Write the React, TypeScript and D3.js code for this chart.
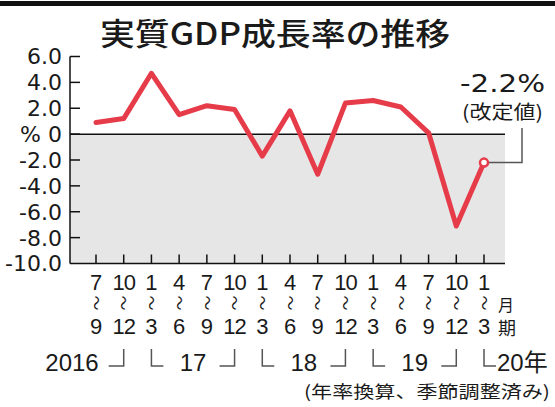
import React, { useEffect, useRef } from 'react'
import * as d3 from 'd3'

const chartWidth = 555
const chartHeight = 407

// quarterly data, Jul-Sep 2016 .. Jan-Mar 2020
const quarterStart = [7, 10, 1, 4, 7, 10, 1, 4, 7, 10, 1, 4, 7, 10, 1]
const quarterEnd = [9, 12, 3, 6, 9, 12, 3, 6, 9, 12, 3, 6, 9, 12, 3]
const quarterYear = [2016, 2016, 2017, 2017, 2017, 2017, 2018, 2018, 2018, 2018, 2019, 2019, 2019, 2019, 2020]
const growth = [0.9, 1.2, 4.7, 1.5, 2.2, 1.9, -1.7, 1.8, -3.1, 2.4, 2.6, 2.1, 0.1, -7.1, -2.2]

const yTicks = [6, 4, 2, 0, -2, -4, -6, -8, -10]
const yTickLabels = ['6.0', '4.0', '2.0', '% 0', '-2.0', '-4.0', '-6.0', '-8.0', '-10.0']
const yearLabels = ['2016', '17', '18', '19', '20年']

const title = '実質GDP成長率の推移'
const lastValueLabel = '-2.2%'
const lastValueNote = '(改定値)'
const footnote = '(年率換算、季節調整済み)'

const styles = {
  line: '#e63c4a',
  plotBg: '#e6e6e6',
  text: '#1a1a1a',
  bracket: '#555',
  cjk: '"Noto Sans CJK JP", sans-serif',
  num: '"DejaVu Sans", sans-serif',
  label: '"Liberation Sans", "Noto Sans CJK JP", sans-serif',
}

function drawChart(node: SVGSVGElement) {
  const svg = d3.select(node)
  svg.selectAll('*').remove()

  const left = 70
  const right = 505

  const x = d3
    .scalePoint<number>()
    .domain(d3.range(growth.length))
    .range([96, 484])
  const y = d3.scaleLinear().domain([-10, 6]).range([263.5, 56.5])

  // top rule
  svg.append('rect').attr('x', 0).attr('y', 1).attr('width', chartWidth).attr('height', 5).style('fill', '#111')

  svg
    .append('text')
    .text(title)
    .attr('x', 100)
    .attr('y', 45)
    .attr('textLength', 350)
    .attr('lengthAdjust', 'spacingAndGlyphs')
    .style('font-family', styles.cjk)
    .style('font-weight', 500)
    .style('font-size', '31px')
    .style('fill', styles.text)

  // negative region
  svg
    .append('rect')
    .attr('x', left)
    .attr('y', y(0))
    .attr('width', right - left)
    .attr('height', y(-10) - y(0))
    .style('fill', styles.plotBg)

  const axes = svg.append('g').style('stroke', '#111').style('stroke-width', 1.5).style('fill', 'none')
  axes.append('line').attr('x1', left).attr('x2', right).attr('y1', y(0)).attr('y2', y(0))
  axes.append('line').attr('x1', left).attr('x2', left).attr('y1', y(6)).attr('y2', y(-10))
  axes.append('line').attr('x1', left).attr('x2', right).attr('y1', y(-10)).attr('y2', y(-10))

  axes
    .selectAll('.ytick')
    .data(yTicks.filter(d => d > -10))
    .enter()
    .append('line')
    .attr('x1', left)
    .attr('x2', left + 10)
    .attr('y1', d => y(d))
    .attr('y2', d => y(d))

  axes
    .selectAll('.xtick')
    .data(growth)
    .enter()
    .append('line')
    .attr('x1', (d, i) => x(i))
    .attr('x2', (d, i) => x(i))
    .attr('y1', y(-10) - 9)
    .attr('y2', y(-10))

  svg
    .selectAll('.ylabel')
    .data(yTicks)
    .enter()
    .append('text')
    .text((d, i) => yTickLabels[i])
    .attr('x', 62)
    .attr('y', d => y(d))
    .attr('dy', '0.36em')
    .attr('text-anchor', 'end')
    .style('font-family', styles.num)
    .style('font-size', '22px')
    .style('fill', styles.text)

  // the line
  const line = d3
    .line<number>()
    .x((d, i) => x(i))
    .y(d => y(d))
  svg
    .append('path')
    .attr('d', line(growth))
    .style('fill', 'none')
    .style('stroke', styles.line)
    .style('stroke-width', 5)
    .style('stroke-linejoin', 'round')
    .style('stroke-linecap', 'round')

  const last = growth.length - 1
  // leader from last point to note
  svg
    .append('path')
    .attr('d', `M${x(last) + 4},${y(growth[last])}H522V128`)
    .style('fill', 'none')
    .style('stroke', '#555')
    .style('stroke-width', 1.5)

  svg
    .append('circle')
    .attr('cx', x(last))
    .attr('cy', y(growth[last]))
    .attr('r', 4)
    .style('fill', '#fff')
    .style('stroke', styles.line)
    .style('stroke-width', 2.5)

  svg
    .append('text')
    .text(lastValueLabel)
    .attr('x', 460)
    .attr('y', 92)
    .attr('textLength', 85)
    .attr('lengthAdjust', 'spacingAndGlyphs')
    .style('font-family', styles.num)
    .style('font-size', '25px')
    .style('fill', styles.text)

  svg
    .append('text')
    .text(lastValueNote)
    .attr('x', 462)
    .attr('y', 119)
    .attr('textLength', 81)
    .attr('lengthAdjust', 'spacingAndGlyphs')
    .style('font-family', styles.cjk)
    .style('font-size', '19px')
    .style('fill', styles.text)

  // quarter labels
  const q = svg
    .append('g')
    .attr('text-anchor', 'middle')
    .style('fill', styles.text)
  q.selectAll('.qs')
    .data(quarterStart)
    .enter()
    .append('text')
    .text(d => d)
    .attr('x', (d, i) => x(i))
    .attr('y', 290)
    .attr('letter-spacing', d => (d > 9 ? -1 : 0))
    .style('font-family', styles.label)
    .style('font-size', '22px')
  q.selectAll('.qw')
    .data(quarterStart)
    .enter()
    .append('text')
    .text('〜')
    .attr('transform', (d, i) => `translate(${x(i)},303) rotate(90)`)
    .attr('dy', '0.35em')
    .style('font-family', styles.cjk)
    .style('font-size', '15px')
  q.selectAll('.qe')
    .data(quarterEnd)
    .enter()
    .append('text')
    .text(d => d)
    .attr('x', (d, i) => x(i))
    .attr('y', 334)
    .attr('letter-spacing', d => (d > 9 ? -1 : 0))
    .style('font-family', styles.label)
    .style('font-size', '22px')
  q.append('text')
    .text('月')
    .attr('x', 506)
    .attr('y', 311)
    .style('font-family', styles.cjk)
    .style('font-size', '16px')
  q.append('text')
    .text('期')
    .attr('x', 507)
    .attr('y', 335)
    .style('font-family', styles.cjk)
    .style('font-size', '18px')

  // year brackets
  const brackets = svg.append('g').style('fill', 'none').style('stroke', styles.bracket).style('stroke-width', 1.5)
  quarterEnd.forEach((m, i) => {
    if (m === 12) brackets.append('path').attr('d', `M${x(i)},349V366H${x(i) - 15}`)
  })
  quarterStart.forEach((m, i) => {
    if (m === 1) brackets.append('path').attr('d', `M${x(i)},349V366H${x(i) + 12}`)
  })

  const years = Array.from(new Set(quarterYear))
  svg
    .selectAll('.year')
    .data(years)
    .enter()
    .append('text')
    .text((d, i) => yearLabels[i])
    .attr('x', (d, i) => {
      const idx = quarterYear.map((v, j) => (v === d ? j : -1)).filter(j => j >= 0)
      if (i === 0) return x(idx[idx.length - 1]) - 25
      if (i === years.length - 1) return x(idx[0]) + 13
      return (x(idx[0]) + x(idx[idx.length - 1])) / 2
    })
    .attr('y', 371)
    .attr('text-anchor', (d, i) => (i === 0 ? 'end' : i === years.length - 1 ? 'start' : 'middle'))
    .style('font-family', styles.label)
    .style('font-size', '24px')
    .style('fill', styles.text)

  svg
    .append('text')
    .text(footnote)
    .attr('x', 304)
    .attr('y', 398)
    .attr('textLength', 246)
    .attr('lengthAdjust', 'spacingAndGlyphs')
    .style('font-family', styles.cjk)
    .style('font-size', '17px')
    .style('fill', styles.text)
}

export default function App() {
  const ref = useRef<SVGSVGElement>(null)

  useEffect(() => {
    if (ref.current) drawChart(ref.current)
  }, [])

  return (
    <svg
      ref={ref}
      width={chartWidth}
      height={chartHeight}
      style={{ position: 'absolute', left: 0, top: 0, background: '#fff', display: 'block' }}
    />
  )
}
